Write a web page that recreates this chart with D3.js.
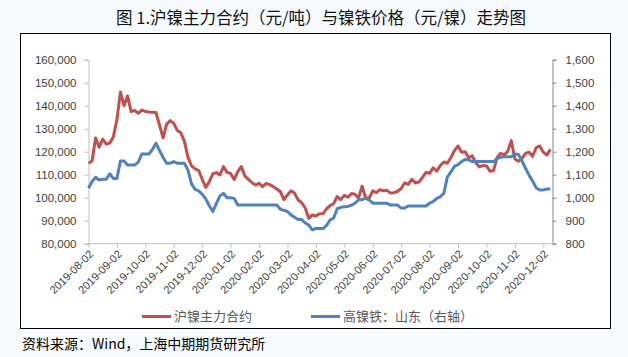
<!DOCTYPE html>
<html>
<head>
<meta charset="utf-8">
<script src="https://cdn.jsdelivr.net/npm/d3@7"></script>
<style>
html,body{margin:0;padding:0;background:#f7fafd;}
svg{display:block;}
</style>
</head>
<body>
<svg id="chart" width="628" height="357"></svg>
<script>
const title = "图 1.沪镍主力合约（元/吨）与镍铁价格（元/镍）走势图";
const source = "资料来源：Wind，上海中期期货研究所";
const seriesNames = ["沪镍主力合约", "高镍铁：山东（右轴）"];
const tickLabels = ["2019-08-02","2019-09-02","2019-10-02","2019-11-02","2019-12-02","2020-01-02","2020-02-02","2020-03-02","2020-04-02","2020-05-02","2020-06-02","2020-07-02","2020-08-02","2020-09-02","2020-10-02","2020-11-02","2020-12-02"];
const pointsPerLabel = 8;
const leftTicks = [80000,90000,100000,110000,120000,130000,140000,150000,160000];
const rightTicks = [800,900,1000,1100,1200,1300,1400,1500,1600];

// 沪镍主力合约 (元/吨), sampled 8 times per month
const nickel = [
115000,116000,126000,122000,125500,123300,123800,126500,134000,146000,
140000,144300,137400,138000,136700,138100,137500,137300,137200,137000,
131500,126000,132000,133500,132300,129200,128200,124500,117500,113800,
112500,111800,108000,104500,107000,110400,110900,109900,113500,111000,
110500,107900,111300,113500,109500,108000,106500,105500,106300,104800,
106200,105700,104800,103800,102600,99200,101200,103000,102000,99000,
97800,95500,91000,92500,92000,93000,93000,95200,96500,97500,
100500,99200,101000,100200,101800,101500,99800,105000,100000,99800,
103000,102200,103500,103000,103200,102000,102200,102800,104000,106500,
105800,108000,106400,106800,108800,111000,110600,113000,111500,114000,
115500,115000,117500,120500,122500,119800,120000,117400,118200,115200,
113400,114000,113800,111500,111800,117500,119300,118600,120200,124800,
116800,115800,117000,119300,119800,118000,121800,122500,119800,118500,
121000];

// 高镍铁：山东 (元/镍), right axis
const nickelPigIron = [
1041,1070,1089,1077,1080,1080,1104,1084,1084,1160,
1160,1142,1142,1142,1155,1190,1190,1190,1210,1237,
1205,1175,1150,1150,1157,1150,1150,1150,1120,1060,
1036,1030,1015,995,965,940,975,1008,1019,1000,
1000,997,968,968,968,968,968,968,968,968,
968,968,968,968,950,945,940,925,915,905,
905,890,881,860,866,866,866,880,903,912,
952,958,961,962,968,976,990,992,997,990,
976,976,976,976,976,968,968,968,955,955,
964,964,964,964,964,964,976,983,997,1004,
1019,1090,1112,1136,1144,1157,1166,1164,1157,1157,
1157,1157,1157,1157,1157,1170,1176,1178,1178,1178,
1190,1188,1160,1128,1098,1072,1043,1033,1034,1038,
1038];

const svg = d3.select("#chart");

// frame
svg.append("rect").attr("x",20.5).attr("y",33.5).attr("width",590).attr("height",295)
  .attr("fill","#ffffff").attr("stroke","#000000").attr("stroke-width",1);

svg.append("text").attr("x",321).attr("y",24).attr("text-anchor","middle")
  .attr("font-family","'Noto Sans CJK SC', sans-serif").attr("font-size",16.5).attr("fill","#111")
  .text(title);

svg.append("text").attr("x",22).attr("y",349)
  .attr("font-family","'Noto Sans CJK SC', sans-serif").attr("font-size",14).attr("fill","#000")
  .text(source);

const x0 = 88.5, x1 = 543.3, xEnd = 552.5;
const yTop = 59.7, yBot = 243.7;
const x = d3.scaleLinear().domain([0, pointsPerLabel*(tickLabels.length-1)]).range([x0, x1]);
const yL = d3.scaleLinear().domain([80000,160000]).range([yBot, yTop]);
const yR = d3.scaleLinear().domain([800,1600]).range([yBot, yTop]);

const tickFont = "'Liberation Sans', Arial, sans-serif";

// left axis
const gL = svg.append("g").attr("transform",`translate(${x0},0)`)
  .call(d3.axisLeft(yL).tickValues(leftTicks).tickSize(4).tickPadding(8).tickFormat(d3.format(",")));
gL.select(".domain").attr("stroke","#bfbfbf");
gL.selectAll(".tick line").attr("stroke","#bfbfbf");
gL.selectAll(".tick text").attr("font-family",tickFont).attr("font-size",11.5).attr("fill","#404040");

// right axis
const gR = svg.append("g").attr("transform",`translate(${xEnd},0)`)
  .call(d3.axisRight(yR).tickValues(rightTicks).tickSize(4).tickPadding(9).tickFormat(d3.format(",")));
gR.select(".domain").attr("stroke","#888888");
gR.selectAll(".tick line").attr("stroke","#888888");
gR.selectAll(".tick text").attr("font-family",tickFont).attr("font-size",11.5).attr("fill","#404040");

// bottom axis
svg.append("line").attr("x1",x0).attr("x2",xEnd).attr("y1",yBot).attr("y2",yBot).attr("stroke","#bfbfbf");
const tickIdx = tickLabels.map((d,i)=>i*pointsPerLabel);
const gB = svg.append("g").attr("transform",`translate(0,${yBot})`)
  .call(d3.axisBottom(x).tickValues(tickIdx).tickSize(4).tickFormat((d,i)=>tickLabels[i]));
gB.select(".domain").remove();
gB.selectAll(".tick line").attr("stroke","#bfbfbf");
gB.selectAll(".tick text").attr("font-family",tickFont).attr("font-size",11).attr("fill","#404040")
  .attr("text-anchor","end").attr("dy",null).attr("y",0)
  .attr("transform","translate(3,9) rotate(-45)")
  .attr("dominant-baseline","middle");

// lines
const lineL = d3.line().x((d,i)=>x(i)).y(d=>yL(d));
const lineR = d3.line().x((d,i)=>x(i)).y(d=>yR(d));
svg.append("path").datum(nickel).attr("d",lineL).attr("fill","none")
  .attr("stroke","#c0504d").attr("stroke-width",3).attr("stroke-linejoin","round");
svg.append("path").datum(nickelPigIron).attr("d",lineR).attr("fill","none")
  .attr("stroke","#4f81bd").attr("stroke-width",3).attr("stroke-linejoin","round");

// legend
const legend = [
  {name: seriesNames[0], color:"#c0504d", x:142},
  {name: seriesNames[1], color:"#4f81bd", x:311}
];
const lg = svg.append("g");
legend.forEach(l=>{
  lg.append("line").attr("x1",l.x).attr("x2",l.x+29).attr("y1",316.5).attr("y2",316.5)
    .attr("stroke",l.color).attr("stroke-width",3);
  lg.append("text").attr("x",l.x+32).attr("y",317).attr("dominant-baseline","middle")
    .attr("font-family","'Noto Sans CJK SC', sans-serif").attr("font-size",13).attr("fill","#595959")
    .text(l.name);
});
</script>
</body>
</html>
